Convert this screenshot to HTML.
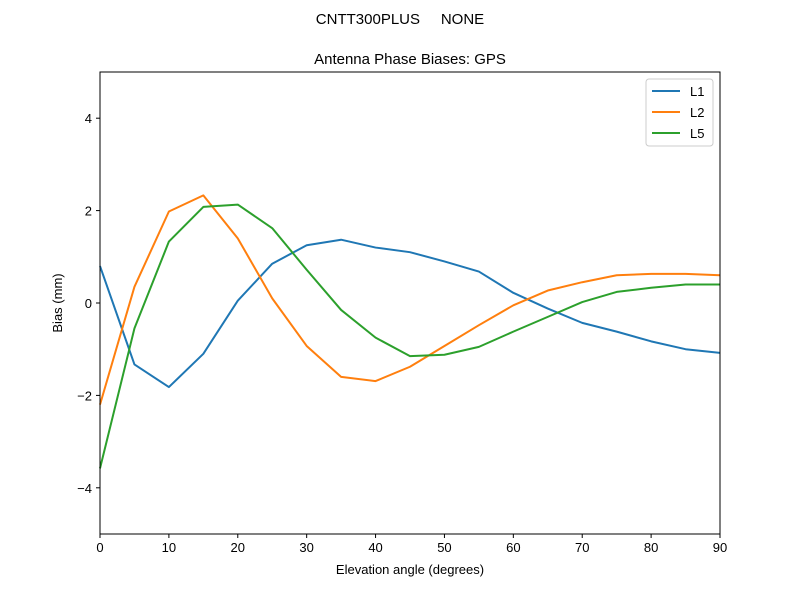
<!DOCTYPE html>
<html><head><meta charset="utf-8"><style>
html,body{margin:0;padding:0;background:#fff;}
svg{display:block;font-family:"Liberation Sans","DejaVu Sans",sans-serif;}
</style></head><body>
<svg id="chart" width="800" height="600" viewBox="0 0 800 600">
<text x="400" y="24" text-anchor="middle" font-size="15" style="white-space:pre" xml:space="preserve">CNTT300PLUS     NONE</text>
<text x="410" y="64" text-anchor="middle" font-size="15">Antenna Phase Biases: GPS</text>
<g id="grid"></g>
<g id="series"></g>
<rect x="100" y="72" width="620" height="462" fill="none" stroke="#000" stroke-width="1"/>
<g id="ticks"></g>
<text x="410" y="574" text-anchor="middle" font-size="13">Elevation angle (degrees)</text>
<text x="62" y="303" text-anchor="middle" font-size="13" transform="rotate(-90 62 303)">Bias (mm)</text>
<g id="legend"></g>
</svg>
<script>
const elevations = [0,5,10,15,20,25,30,35,40,45,50,55,60,65,70,75,80,85,90];
const l1 = [0.8,-1.33,-1.82,-1.1,0.05,0.85,1.25,1.37,1.2,1.1,0.9,0.68,0.22,-0.12,-0.43,-0.62,-0.83,-1.0,-1.08];
const l2 = [-2.2,0.35,1.98,2.33,1.4,0.1,-0.93,-1.6,-1.69,-1.38,-0.93,-0.48,-0.05,0.27,0.45,0.6,0.63,0.63,0.6];
const l5 = [-3.58,-0.55,1.33,2.08,2.13,1.62,0.72,-0.15,-0.75,-1.15,-1.12,-0.95,-0.62,-0.3,0.02,0.24,0.33,0.4,0.4];
const seriesNames = ["L1","L2","L5"];
const xTicks = [0,10,20,30,40,50,60,70,80,90];
const yTicks = [-4,-2,0,2,4];

const NS = "http://www.w3.org/2000/svg";
const X0=100,X1=720,Y0=534,Y1=72;
function xs(v){return X0+(v-0)/(90-0)*(X1-X0);}
function ys(v){return Y0-(v+5)/10*(Y0-Y1);}
function mk(tag,attrs,parent){const e=document.createElementNS(NS,tag);for(const k in attrs)e.setAttribute(k,attrs[k]);parent.appendChild(e);return e;}

const colors=["#1f77b4","#ff7f0e","#2ca02c"];
const data=[l1,l2,l5];
const sg=document.getElementById("series");
data.forEach((arr,i)=>{
  const pts=arr.map((v,j)=>xs(elevations[j]).toFixed(2)+","+ys(v).toFixed(2)).join(" ");
  const p=mk("polyline",{points:pts,fill:"none",stroke:colors[i],"stroke-width":2,"stroke-linejoin":"round"},sg);
  
  
});

const tg=document.getElementById("ticks");
xTicks.forEach(t=>{
  const x=xs(t);
  const l=mk("line",{x1:x,x2:x,y1:Y0,y2:Y0+4,stroke:"#000"},tg);
  
  
  const tx=mk("text",{x:x,y:Y0+18,"text-anchor":"middle","font-size":13},tg);
  tx.textContent=t;
  
  
});
yTicks.forEach(t=>{
  const y=ys(t);
  const l=mk("line",{x1:X0-4,x2:X0,y1:y,y2:y,stroke:"#000"},tg);
  
  
  const tx=mk("text",{x:X0-8,y:y+5,"text-anchor":"end","font-size":13},tg);
  tx.textContent=(t<0?"\u2212"+Math.abs(t):String(t));
  
  
});

const lg=document.getElementById("legend");
const box=mk("rect",{x:646,y:79,width:67,height:67,fill:"#fff",stroke:"#ccc",rx:3},lg);


seriesNames.forEach((n,i)=>{
  const y=91+i*21;
  const l=mk("line",{x1:652,x2:680,y1:y,y2:y,stroke:colors[i],"stroke-width":2},lg);
  
  
  const t=mk("text",{x:690,y:y+5,"font-size":13},lg);
  t.textContent=n;
  
  
});
</script>
</body></html>
